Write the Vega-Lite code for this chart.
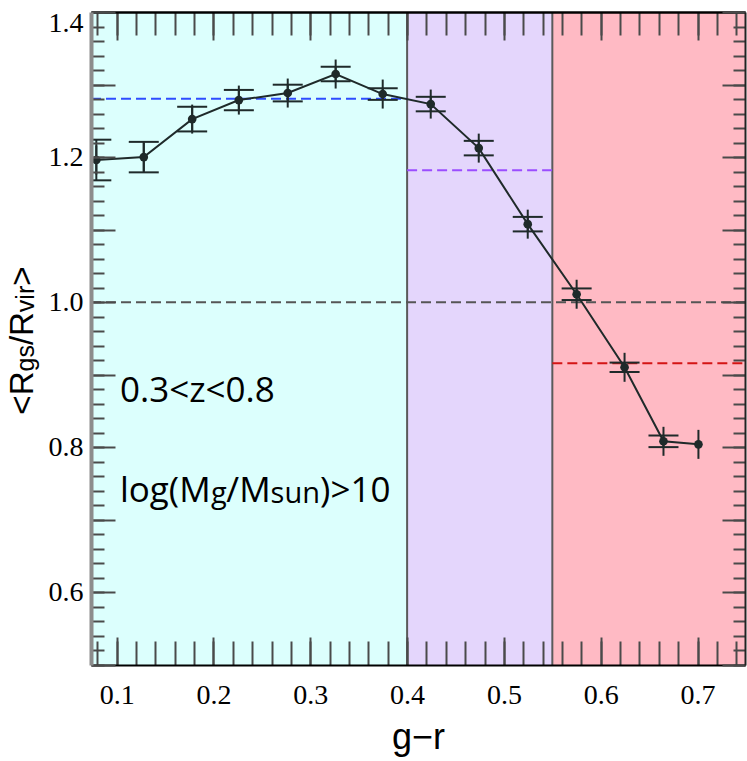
{
  "$schema": "https://vega.github.io/schema/vega-lite/v6.json",
  "width": 654,
  "height": 653,
  "autosize": {"type": "none"},
  "padding": {"left": 91, "top": 12, "right": 2, "bottom": 96},
  "background": "white",
  "config": {
    "view": {"stroke": null},
    "axis": {"grid": false, "zindex": 1, "tickColor": "#4a4a4a", "tickWidth": 2, "labelFont": "Liberation Serif", "labelFontSize": 28, "labelColor": "black", "labelOverlap": false, "title": null, "domain": false, "labels": false}
  },
  "datasets": {
    "regions": [
      {"start": 0.0735, "end": 0.4, "group": "blue"},
      {"start": 0.4, "end": 0.55, "group": "green"},
      {"start": 0.55, "end": 0.749, "group": "red"}
    ],
    "levels": [
      {"from": 0.0735, "to": 0.4, "mean": 1.2805, "group": "blue"},
      {"from": 0.4, "to": 0.55, "mean": 1.182, "group": "green"},
      {"from": 0.55, "to": 0.749, "mean": 0.916, "group": "red"},
      {"from": 0.0735, "to": 0.749, "mean": 1.0, "group": "unity"}
    ],
    "points": [
      {"gr": 0.079, "ratio": 1.196, "lo": 1.168, "hi": 1.224},
      {"gr": 0.128, "ratio": 1.2, "lo": 1.179, "hi": 1.221},
      {"gr": 0.178, "ratio": 1.2524, "lo": 1.2354, "hi": 1.2694},
      {"gr": 0.2262, "ratio": 1.2786, "lo": 1.2646, "hi": 1.2926},
      {"gr": 0.2767, "ratio": 1.2883, "lo": 1.2768, "hi": 1.2998},
      {"gr": 0.3262, "ratio": 1.3145, "lo": 1.3045, "hi": 1.3245},
      {"gr": 0.3748, "ratio": 1.2869, "lo": 1.2789, "hi": 1.2949},
      {"gr": 0.4244, "ratio": 1.2731, "lo": 1.2631, "hi": 1.2831},
      {"gr": 0.474, "ratio": 1.2124, "lo": 1.2024, "hi": 1.2224},
      {"gr": 0.5246, "ratio": 1.1076, "lo": 1.0976, "hi": 1.1176},
      {"gr": 0.5751, "ratio": 1.011, "lo": 1.003, "hi": 1.019},
      {"gr": 0.6246, "ratio": 0.9103, "lo": 0.9038, "hi": 0.9168},
      {"gr": 0.6648, "ratio": 0.8083, "lo": 0.8003, "hi": 0.8163},
      {"gr": 0.7009, "ratio": 0.8041, "lo": null, "hi": null}
    ],
    "labels": [
      {"x": 0.10341, "y": 0.8624, "text": "0.3<z<0.8", "kind": "main"},
      {"x": 0.10341, "y": 0.7246, "text": "log(M", "kind": "main"},
      {"x": 0.19732, "y": 0.7232, "text": "g", "kind": "sub"},
      {"x": 0.21331, "y": 0.7246, "text": "/M", "kind": "main"},
      {"x": 0.25903, "y": 0.7232, "text": "sun", "kind": "sub"},
      {"x": 0.31011, "y": 0.7246, "text": ")>10", "kind": "main"},
      {"x": 0.01362, "y": 0.84507, "text": "<R", "kind": "ymain"},
      {"x": 0.01465, "y": 0.90448, "text": "gs", "kind": "ysub"},
      {"x": 0.01362, "y": 0.94087, "text": "/R", "kind": "ymain"},
      {"x": 0.01465, "y": 0.98635, "text": "vir", "kind": "ysub"},
      {"x": 0.01362, "y": 1.02275, "text": ">", "kind": "ymain"}
    ]
  },
  "resolve": {"axis": {"x": "independent", "y": "independent"}},
  "layer": [
    {
      "data": {"name": "regions"},
      "mark": {"type": "rect"},
      "encoding": {
        "x": {"field": "start", "type": "quantitative", "scale": {"domain": [0.0735, 0.749], "nice": false, "zero": false},
          "axis": {"orient": "bottom", "zindex": 2, "values": [0.08,0.1,0.12,0.14,0.16,0.18,0.2,0.22,0.24,0.26,0.28,0.3,0.32,0.34,0.36,0.38,0.4,0.42,0.44,0.46,0.48,0.5,0.52,0.54,0.56,0.58,0.6,0.62,0.64,0.66,0.68,0.7,0.72,0.74], "tickSize": -24}},
        "x2": {"field": "end"},
        "fill": {"field": "group", "type": "nominal", "scale": {"domain": ["blue", "green", "red"], "range": ["#dcfffd", "#e4d6fc", "#ffbac4"]}, "legend": null}
      }
    },
    {
      "data": {"name": "regions"},
      "transform": [{"filter": "datum.start > 0.1"}],
      "mark": {"type": "rule", "color": "#5a5a5a", "strokeWidth": 2},
      "encoding": {
        "x": {"field": "start", "type": "quantitative", "scale": {"domain": [0.0735, 0.749], "nice": false, "zero": false},
          "axis": {"orient": "bottom", "zindex": 2, "values": [0.1,0.2,0.3,0.4,0.5,0.6,0.7], "tickSize": -28, "labels": true, "labelPadding": 44, "format": ".1f",
            "domain": true, "domainColor": "black", "domainWidth": 2,
            "title": "g−r", "titleFont": "Liberation Sans", "titleFontSize": 36, "titleFontWeight": "normal", "titleColor": "black", "titleBaseline": "alphabetic", "titleY": 83}}
      }
    },
    {
      "data": {"name": "levels"},
      "mark": {"type": "rule", "strokeWidth": 2, "strokeDash": [10, 5]},
      "encoding": {
        "x": {"field": "from", "type": "quantitative", "scale": {"domain": [0.0735, 0.749], "nice": false, "zero": false},
          "axis": {"orient": "top", "zindex": 2, "values": [0.08,0.1,0.12,0.14,0.16,0.18,0.2,0.22,0.24,0.26,0.28,0.3,0.32,0.34,0.36,0.38,0.4,0.42,0.44,0.46,0.48,0.5,0.52,0.54,0.56,0.58,0.6,0.62,0.64,0.66,0.68,0.7,0.72,0.74], "tickSize": -23}},
        "x2": {"field": "to"},
        "y": {"field": "mean", "type": "quantitative", "scale": {"domain": [0.5, 1.4], "nice": false, "zero": false},
          "axis": {"orient": "left", "zindex": 2, "values": [0.5,0.52,0.54,0.56,0.58,0.6,0.62,0.64,0.66,0.68,0.7,0.72,0.74,0.76,0.78,0.8,0.82,0.84,0.86,0.88,0.9,0.92,0.94,0.96,0.98,1.0,1.02,1.04,1.06,1.08,1.1,1.12,1.14,1.16,1.18,1.2,1.22,1.24,1.26,1.28,1.3,1.32,1.34,1.36,1.38,1.4], "tickSize": -13}},
        "stroke": {"field": "group", "type": "nominal", "scale": {"domain": ["blue", "green", "red", "unity"], "range": ["#2f4dff", "#9b4dff", "#d41515", "#555555"]}, "legend": null}
      }
    },
    {
      "data": {"name": "points"},
      "mark": {"type": "line", "color": "#1f2a2a", "strokeWidth": 2},
      "encoding": {
        "x": {"field": "gr", "type": "quantitative", "scale": {"domain": [0.0735, 0.749], "nice": false, "zero": false},
          "axis": {"orient": "top", "zindex": 2, "values": [0.1,0.2,0.3,0.4,0.5,0.6,0.7], "tickSize": -28, "domain": true, "domainColor": "black", "domainWidth": 2.5}},
        "y": {"field": "ratio", "type": "quantitative", "scale": {"domain": [0.5, 1.4], "nice": false, "zero": false},
          "axis": {"orient": "left", "zindex": 2, "values": [0.5,0.6,0.7,0.8,0.9,1.0,1.1,1.2,1.3,1.4], "tickSize": -24, "labels": true, "labelPadding": 32, "labelFlush": true, "labelFlushOffset": 3,
            "labelExpr": "abs(datum.value*5 - round(datum.value*5)) < 0.001 ? format(datum.value, '.1f') : ''",
            "domain": true, "domainColor": "#8c8c8c", "domainWidth": 4}}
      }
    },
    {
      "data": {"name": "points"},
      "transform": [{"filter": "isValid(datum.lo)"}],
      "mark": {"type": "rule", "color": "#1f2a2a", "strokeWidth": 2},
      "encoding": {
        "x": {"field": "gr", "type": "quantitative", "scale": {"domain": [0.0735, 0.749], "nice": false, "zero": false}, "axis": null},
        "y": {"field": "lo", "type": "quantitative", "scale": {"domain": [0.5, 1.4], "nice": false, "zero": false},
          "axis": {"orient": "right", "zindex": 2, "values": [0.5,0.52,0.54,0.56,0.58,0.6,0.62,0.64,0.66,0.68,0.7,0.72,0.74,0.76,0.78,0.8,0.82,0.84,0.86,0.88,0.9,0.92,0.94,0.96,0.98,1.0,1.02,1.04,1.06,1.08,1.1,1.12,1.14,1.16,1.18,1.2,1.22,1.24,1.26,1.28,1.3,1.32,1.34,1.36,1.38,1.4], "tickSize": -12}},
        "y2": {"field": "hi"}
      }
    },
    {
      "data": {"name": "points"},
      "transform": [{"filter": "isValid(datum.lo)"}],
      "mark": {"type": "tick", "orient": "horizontal", "size": 30, "thickness": 2, "color": "#1f2a2a", "opacity": 1, "clip": true},
      "encoding": {
        "x": {"field": "gr", "type": "quantitative", "scale": {"domain": [0.0735, 0.749], "nice": false, "zero": false}, "axis": null},
        "y": {"field": "lo", "type": "quantitative", "scale": {"domain": [0.5, 1.4], "nice": false, "zero": false},
          "axis": {"orient": "right", "zindex": 2, "values": [0.5,0.6,0.7,0.8,0.9,1.0,1.1,1.2,1.3,1.4], "tickSize": -23, "domain": true, "domainColor": "#222222", "domainWidth": 2}}
      }
    },
    {
      "data": {"name": "points"},
      "transform": [{"filter": "isValid(datum.hi)"}],
      "mark": {"type": "tick", "orient": "horizontal", "size": 30, "thickness": 2, "color": "#1f2a2a", "opacity": 1, "clip": true},
      "encoding": {
        "x": {"field": "gr", "type": "quantitative", "scale": {"domain": [0.0735, 0.749], "nice": false, "zero": false}, "axis": null},
        "y": {"field": "hi", "type": "quantitative", "scale": {"domain": [0.5, 1.4], "nice": false, "zero": false}, "axis": null}
      }
    },
    {
      "data": {"name": "points"},
      "mark": {"type": "tick", "orient": "vertical", "size": 29, "thickness": 2, "color": "#1f2a2a", "opacity": 1},
      "encoding": {
        "x": {"field": "gr", "type": "quantitative", "scale": {"domain": [0.0735, 0.749], "nice": false, "zero": false}, "axis": null},
        "y": {"field": "ratio", "type": "quantitative", "scale": {"domain": [0.5, 1.4], "nice": false, "zero": false}, "axis": null}
      }
    },
    {
      "data": {"name": "points"},
      "mark": {"type": "circle", "size": 75, "color": "#1f2a2a", "opacity": 1},
      "encoding": {
        "x": {"field": "gr", "type": "quantitative", "scale": {"domain": [0.0735, 0.749], "nice": false, "zero": false}, "axis": null},
        "y": {"field": "ratio", "type": "quantitative", "scale": {"domain": [0.5, 1.4], "nice": false, "zero": false}, "axis": null}
      }
    },
    {
      "data": {"name": "labels"},
      "transform": [{"filter": "datum.kind == 'main'"}],
      "mark": {"type": "text", "font": "Open Sans", "fontSize": 35, "align": "left", "baseline": "alphabetic", "color": "black"},
      "encoding": {
        "x": {"field": "x", "type": "quantitative", "scale": {"domain": [0.0735, 0.749], "nice": false, "zero": false}, "axis": null},
        "y": {"field": "y", "type": "quantitative", "scale": {"domain": [0.5, 1.4], "nice": false, "zero": false}, "axis": null},
        "text": {"field": "text"}
      }
    },
    {
      "data": {"name": "labels"},
      "transform": [{"filter": "datum.kind == 'sub'"}],
      "mark": {"type": "text", "font": "Open Sans", "fontSize": 29, "align": "left", "baseline": "alphabetic", "color": "black"},
      "encoding": {
        "x": {"field": "x", "type": "quantitative", "scale": {"domain": [0.0735, 0.749], "nice": false, "zero": false}, "axis": null},
        "y": {"field": "y", "type": "quantitative", "scale": {"domain": [0.5, 1.4], "nice": false, "zero": false}, "axis": null},
        "text": {"field": "text"}
      }
    },
    {
      "data": {"name": "labels"},
      "transform": [{"filter": "datum.kind == 'ymain'"}],
      "mark": {"type": "text", "font": "Liberation Sans", "fontSize": 33, "angle": 270, "align": "left", "baseline": "alphabetic", "color": "black"},
      "encoding": {
        "x": {"field": "x", "type": "quantitative", "scale": {"domain": [0.0735, 0.749], "nice": false, "zero": false}, "axis": null},
        "y": {"field": "y", "type": "quantitative", "scale": {"domain": [0.5, 1.4], "nice": false, "zero": false}, "axis": null},
        "text": {"field": "text"}
      }
    },
    {
      "data": {"name": "labels"},
      "transform": [{"filter": "datum.kind == 'ysub'"}],
      "mark": {"type": "text", "font": "Liberation Sans", "fontSize": 25, "angle": 270, "align": "left", "baseline": "alphabetic", "color": "black"},
      "encoding": {
        "x": {"field": "x", "type": "quantitative", "scale": {"domain": [0.0735, 0.749], "nice": false, "zero": false}, "axis": null},
        "y": {"field": "y", "type": "quantitative", "scale": {"domain": [0.5, 1.4], "nice": false, "zero": false}, "axis": null},
        "text": {"field": "text"}
      }
    }
  ]
}
